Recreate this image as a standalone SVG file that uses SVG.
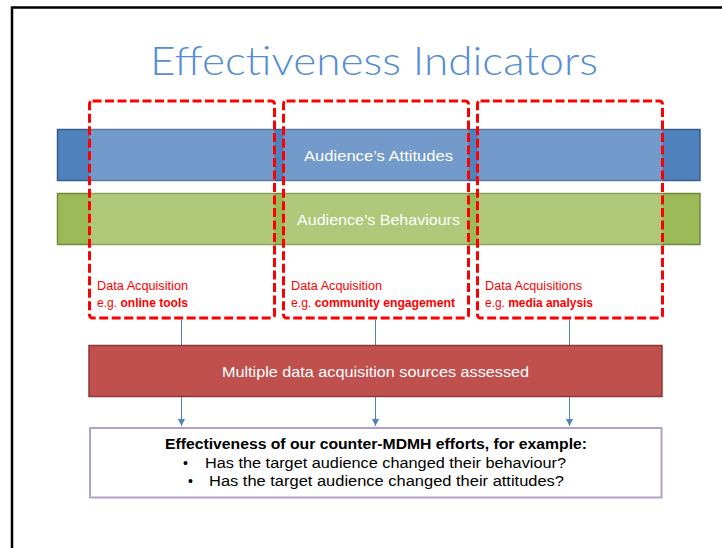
<svg xmlns="http://www.w3.org/2000/svg" width="722" height="548" viewBox="0 0 722 548">
<style>
.t{font-family:"Liberation Sans",Arial,sans-serif;}
.w{fill:#FFFFFF;}
.lbl{fill:#FF0000;font-size:12.5px;}
.dash{fill:#FFFFFF;fill-opacity:0.2;stroke:#FF0000;stroke-width:3;stroke-dasharray:9 3.5;}
.conn{stroke:#4F81BD;stroke-width:1;fill:none;}
</style>
<defs>
<marker id="ah" viewBox="0 0 10 10" refX="10" refY="5" markerWidth="7" markerHeight="7" markerUnits="userSpaceOnUse" orient="auto">
<path d="M0,0 L10,5 L0,10 z" fill="#4F81BD"/>
</marker>
</defs>
<rect width="722" height="548" fill="#FFFFFF"/>
<path d="M12,548 V7.5 H722" fill="none" stroke="#000000" stroke-width="2.5"/>
<g id="title">
<text x="374" y="75" text-anchor="middle" font-family="Lato,'Open Sans',sans-serif" font-weight="300" font-size="40" fill="#558ED5" textLength="448" lengthAdjust="spacingAndGlyphs">Effectiveness Indicators</text>
</g>
<g id="bar-attitudes">
<rect x="57.5" y="129.5" width="642.5" height="51" fill="#4F81BD" stroke="#385D8A" stroke-width="1.5"/>
<text class="t w" x="378.5" y="161" text-anchor="middle" font-size="15.5" textLength="149" lengthAdjust="spacingAndGlyphs">Audience’s Attitudes</text>
</g>
<g id="bar-behaviours">
<rect x="57.5" y="193.5" width="642.5" height="51" fill="#9BBB59" stroke="#71893F" stroke-width="1.5"/>
<text class="t w" x="378.5" y="224.5" text-anchor="middle" font-size="15.5" textLength="163" lengthAdjust="spacingAndGlyphs">Audience’s Behaviours</text>
</g>
<g id="box-online">
<rect class="dash" x="89.5" y="101" width="185" height="217" rx="3"/>
<text class="t lbl" x="97" y="290" textLength="91" lengthAdjust="spacingAndGlyphs">Data Acquisition</text>
<text class="t lbl" x="97" y="307" textLength="91" lengthAdjust="spacingAndGlyphs">e.g. <tspan font-weight="bold">online tools</tspan></text>
</g>
<g id="box-community">
<rect class="dash" x="283.5" y="101" width="185" height="217" rx="3"/>
<text class="t lbl" x="291" y="290" textLength="91" lengthAdjust="spacingAndGlyphs">Data Acquisition</text>
<text class="t lbl" x="291" y="307" textLength="164" lengthAdjust="spacingAndGlyphs">e.g. <tspan font-weight="bold">community engagement</tspan></text>
</g>
<g id="box-media">
<rect class="dash" x="477.5" y="101" width="185" height="217" rx="3"/>
<text class="t lbl" x="485" y="290" textLength="97" lengthAdjust="spacingAndGlyphs">Data Acquisitions</text>
<text class="t lbl" x="485" y="307" textLength="108" lengthAdjust="spacingAndGlyphs">e.g. <tspan font-weight="bold">media analysis</tspan></text>
</g>
<g id="connectors">
<line class="conn" x1="181.5" y1="319.5" x2="181.5" y2="345"/>
<line class="conn" x1="375.5" y1="319.5" x2="375.5" y2="345"/>
<line class="conn" x1="569.5" y1="319.5" x2="569.5" y2="345"/>
<line class="conn" x1="181.5" y1="397" x2="181.5" y2="426" marker-end="url(#ah)"/>
<line class="conn" x1="375.5" y1="397" x2="375.5" y2="426" marker-end="url(#ah)"/>
<line class="conn" x1="569.5" y1="397" x2="569.5" y2="426" marker-end="url(#ah)"/>
</g>
<g id="sources">
<rect x="89" y="345.5" width="573" height="51" fill="#C0504D" stroke="#8C3836" stroke-width="1.5"/>
<text class="t w" x="375.5" y="376.5" text-anchor="middle" font-size="15.5" textLength="307" lengthAdjust="spacingAndGlyphs">Multiple data acquisition sources assessed</text>
</g>
<g id="effectiveness">
<rect x="90" y="428" width="571.5" height="69.5" fill="#FFFFFF" stroke="#B3A2C7" stroke-width="2"/>
<text class="t" x="376" y="449" text-anchor="middle" font-size="14" font-weight="bold" fill="#000000" textLength="422" lengthAdjust="spacingAndGlyphs">Effectiveness of our counter-MDMH efforts, for example:</text>
<text class="t" x="183" y="467.5" font-size="14" fill="#000000">•</text>
<text class="t" x="205" y="467.5" font-size="14" fill="#000000" textLength="361" lengthAdjust="spacingAndGlyphs">Has the target audience changed their behaviour?</text>
<text class="t" x="188" y="486" font-size="14" fill="#000000">•</text>
<text class="t" x="209" y="486" font-size="14" fill="#000000" textLength="355" lengthAdjust="spacingAndGlyphs">Has the target audience changed their attitudes?</text>
</g>
</svg>
